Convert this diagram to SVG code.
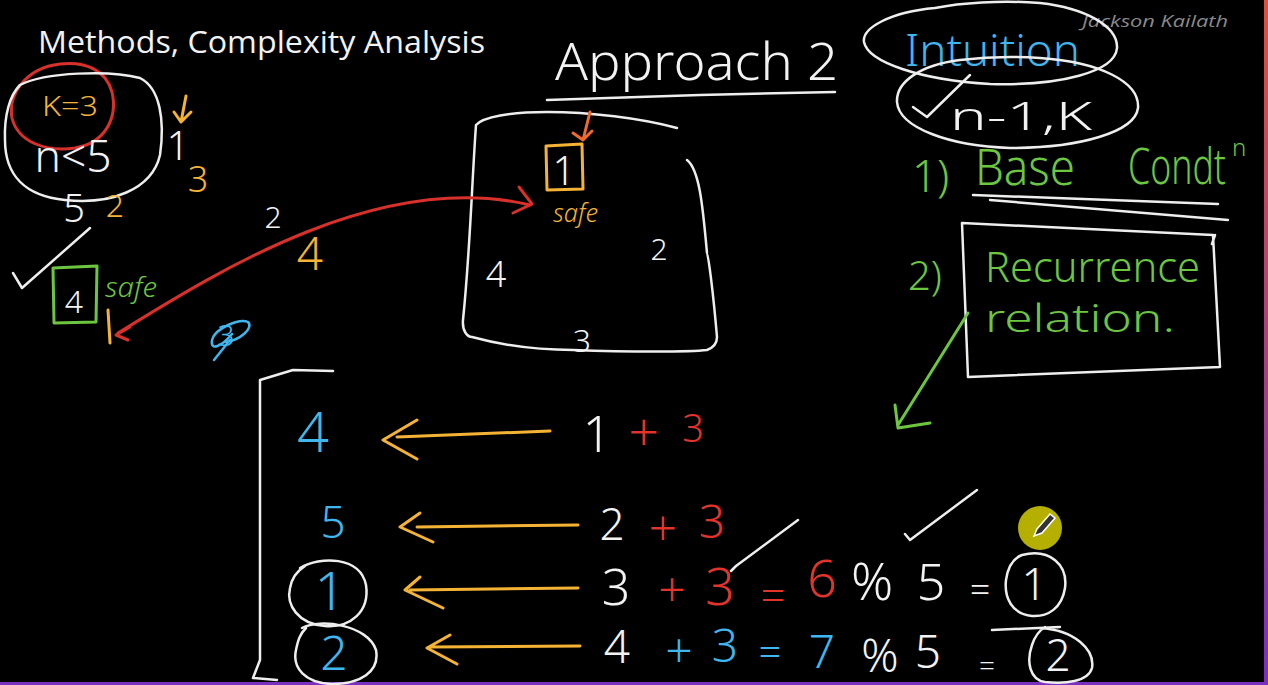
<svg xmlns="http://www.w3.org/2000/svg" width="1268" height="685" viewBox="0 0 1268 685">
<defs>
<linearGradient id="edge" x1="0" y1="0" x2="0" y2="1"><stop offset="0" stop-color="#e0503a"/><stop offset="1" stop-color="#7a30c0"/></linearGradient>
</defs>
<style>
text{font-family:"Noto Sans","Liberation Sans",sans-serif;}
.hw{font-family:"Noto Sans","Liberation Sans",sans-serif;font-weight:300;}
.c{text-anchor:middle;}
.w{fill:#f2f2f2;}.o{fill:#f5b335;}.r{fill:#e3342c;}.b{fill:#3fb6ee;}.g{fill:#6cc63f;}
.sw{fill:none;stroke:#eeeeee;stroke-width:2.5;stroke-linecap:round;stroke-linejoin:round;}
.so{fill:none;stroke:#f5b335;stroke-width:3;stroke-linecap:round;stroke-linejoin:round;}
.sr{fill:none;stroke:#d8302a;stroke-width:3;stroke-linecap:round;stroke-linejoin:round;}
.sg{fill:none;stroke:#6cc63f;stroke-width:3;stroke-linecap:round;stroke-linejoin:round;}
.sb{fill:none;stroke:#3fb6ee;stroke-width:2.5;stroke-linecap:round;stroke-linejoin:round;}
.sor{fill:none;stroke:#f06a30;stroke-width:3;stroke-linecap:round;stroke-linejoin:round;}
</style>
<rect width="1268" height="685" fill="#000"/>
<rect x="1264" y="0" width="4" height="685" fill="url(#edge)"/>
<rect x="0" y="682" width="1268" height="3" fill="#7b2fbf"/>

<g id="title">
<text x="38" y="53" font-size="31" textLength="447" lengthAdjust="spacingAndGlyphs" class="w" style="font-family:'Open Sans','Noto Sans',sans-serif">Methods, Complexity Analysis</text>
<text x="1082" y="27" font-size="17" fill="#8a8a8a" font-style="italic" textLength="146" lengthAdjust="spacingAndGlyphs" style="font-family:'Open Sans','Noto Sans',sans-serif">Jackson Kailath</text>
</g>

<g id="left-notes">
<path class="sr" d="M60,64 C25,68 8,95 12,118 C18,142 45,152 75,148 C105,143 118,118 112,92 C106,70 85,61 60,64 Z"/>
<path class="sw" d="M20,85 C45,72 110,70 140,78 C160,88 165,120 160,155 C152,190 110,205 65,200 C25,196 5,175 5,140 C4,115 10,95 20,85"/>
<text x="70" y="116" font-size="28" textLength="56" lengthAdjust="spacingAndGlyphs" class="hw o c">K=3</text>
<text x="73" y="172" font-size="44" textLength="77" lengthAdjust="spacingAndGlyphs" class="hw w c">n&lt;5</text>
<path class="so" d="M186,96 L181,122 M174,112 L181,122 L191,112"/>
<text x="178" y="160" font-size="40" class="hw w c">1</text>
<text x="198" y="192" font-size="36" class="hw o c">3</text>
<text x="74" y="222" font-size="38" class="hw w c">5</text>
<text x="115" y="217" font-size="32" class="hw o c">2</text>
<path class="sw" d="M13,273 L22,288 L90,228"/>
<path class="sg" d="M53,268 L97,266 L96,322 L54,323 Z"/>
<text x="74" y="313" font-size="32" class="hw w c">4</text>
<text x="105" y="297" font-size="28" font-style="italic" textLength="52" lengthAdjust="spacingAndGlyphs" class="hw g">safe</text>
<path class="so" d="M108,310 L110,343"/>
<text x="273" y="228" font-size="30" class="hw w c">2</text>
<text x="310" y="270" font-size="46" class="hw o c">4</text>
<text x="226" y="346" font-size="30" class="hw b c">3</text>
<path class="sb" d="M232,334 C222,346 210,352 212,340 C215,328 240,318 248,322 C254,328 240,340 226,342 M230,340 L214,360"/>
</g>

<g id="approach">
<text x="555" y="80" font-size="52" textLength="283" lengthAdjust="spacingAndGlyphs" class="hw w">Approach 2</text>
<path class="sw" d="M547,100 L700,95 L835,92"/>
</g>

<g id="circle-box">
<path class="sw" d="M677,128 C640,118 590,112 547,112 C510,112 483,117 476,125 C472,180 470,253 463,320 C462,332 468,337 472,337 C505,346 540,350 573,350 C630,352 690,352 707,350 C715,347 717,342 717,337 C713,290 708,253 707,253 C703,210 700,170 687,160"/>
<path class="so" d="M546,146 L582,144 L583,189 L547,190 Z"/>
<text x="564" y="185" font-size="40" class="hw w c">1</text>
<text x="553" y="222" font-size="26" font-style="italic" textLength="45" lengthAdjust="spacingAndGlyphs" class="hw o">safe</text>
<text x="659" y="260" font-size="30" class="hw w c">2</text>
<text x="496" y="287" font-size="36" class="hw w c">4</text>
<text x="582" y="352" font-size="32" class="hw w c">3</text>
</g>

<g id="intuition">
<path class="sw" d="M935,8 C890,12 862,28 864,42 C868,62 920,80 990,84 C1060,86 1115,72 1117,48 C1118,26 1085,8 1040,3 C1000,0 960,3 935,8"/>
<text x="905" y="66" font-size="44" textLength="175" lengthAdjust="spacingAndGlyphs" class="hw b">Intuition</text>
<path class="sw" d="M960,60 C920,65 896,82 897,102 C899,128 950,146 1010,148 C1080,148 1135,132 1138,108 C1140,82 1100,62 1040,58 C1010,56 985,57 960,60"/>
<path class="sw" d="M913,107 L927,117 L970,75"/>
<text x="950" y="130" font-size="38" textLength="142" lengthAdjust="spacingAndGlyphs" class="hw w">n-1,K</text>
</g>

<g id="base-condition">
<text x="912" y="192" font-size="44" class="hw g">1)</text>
<text x="975" y="185" font-size="50" textLength="100" lengthAdjust="spacingAndGlyphs" class="hw g">Base</text>
<text x="1128" y="184" font-size="50" textLength="98" lengthAdjust="spacingAndGlyphs" class="hw g">Condt</text>
<text x="1232" y="156" font-size="24" class="hw g">n</text>
<path class="sw" d="M973,195 L1218,204 M990,200 L1228,220"/>
</g>

<g id="recurrence">
<path class="sw" d="M962,223 L1213,235 L1220,367 L968,377 Z M1212,244 L1215,235"/>
<text x="908" y="290" font-size="40" class="hw g">2)</text>
<text x="985" y="282" font-size="42" textLength="215" lengthAdjust="spacingAndGlyphs" class="hw g">Recurrence</text>
<text x="985" y="332" font-size="38" textLength="190" lengthAdjust="spacingAndGlyphs" class="hw g">relation.</text>
</g>

<g id="table">
<path class="sw" d="M333,371 L293,370 L260,380 L260,660 L253,678 L277,680"/>
<text x="313" y="452" font-size="56" class="hw b c">4</text>
<text x="597" y="452" font-size="50" class="hw w c">1</text>
<text x="644" y="451" font-size="54" class="hw r c">+</text>
<text x="693" y="442" font-size="38" class="hw r c">3</text>

<text x="333" y="538" font-size="44" class="hw b c">5</text>
<text x="612" y="540" font-size="44" class="hw w c">2</text>
<text x="663" y="546" font-size="50" class="hw r c">+</text>
<text x="712" y="538" font-size="46" class="hw r c">3</text>

<path class="sw" d="M300,568 C320,556 360,556 366,585 C370,612 350,628 325,626 C298,624 286,605 290,588 C292,578 296,572 305,566"/>
<text x="330" y="610" font-size="54" class="hw b c">1</text>
<text x="616" y="605" font-size="50" class="hw w c">3</text>
<text x="672" y="607" font-size="48" class="hw r c">+</text>
<text x="720" y="605" font-size="52" class="hw r c">3</text>
<path class="sw" d="M731,571 L736,566 L798,520"/>
<text x="773" y="611" font-size="44" class="hw r c">=</text>
<text x="822" y="597" font-size="52" class="hw r c">6</text>
<text x="872" y="600" font-size="52" class="hw w c">%</text>
<text x="931" y="600" font-size="50" class="hw w c">5</text>
<path class="sw" d="M905,534 L910,540 L977,490"/>
<text x="980" y="602" font-size="36" class="hw w c">=</text>
<path class="sw" d="M1022,555 C1050,548 1068,565 1065,588 C1062,608 1048,617 1032,616 C1012,614 1004,598 1006,580 C1008,566 1014,558 1022,555"/>
<text x="1034" y="600" font-size="44" class="hw w c">1</text>

<path class="sw" d="M302,628 C320,618 368,625 376,650 C380,672 360,684 332,684 C305,683 292,668 296,650 C298,640 300,634 306,628"/>
<text x="334" y="670" font-size="48" class="hw b c">2</text>
<text x="617" y="663" font-size="46" class="hw w c">4</text>
<text x="679" y="668" font-size="48" class="hw b c">+</text>
<text x="725" y="662" font-size="46" class="hw b c">3</text>
<text x="770" y="666" font-size="40" class="hw b c">=</text>
<text x="822" y="668" font-size="46" class="hw b c">7</text>
<text x="880" y="672" font-size="46" class="hw w c">%</text>
<text x="928" y="668" font-size="46" class="hw w c">5</text>
<text x="987" y="676" font-size="28" class="hw w c">=</text>
<path class="sw" d="M992,630 L1060,627 M1040,628 C1075,630 1095,650 1092,668 C1088,682 1065,684 1045,682 C1030,680 1026,662 1032,645 C1035,636 1040,630 1045,627"/>
<text x="1058" y="671" font-size="44" class="hw w c">2</text>
</g>

<g id="cursor">
<circle cx="1040" cy="528" r="22" fill="#b5b000"/>
<path d="M1034,536 L1037,529 L1050,514 L1055,518 L1042,533 Z" fill="#333" stroke="#fff" stroke-width="1.5"/>
</g>

<g id="connectors">
<path class="sr" d="M118,333 C220,270 380,170 530,205"/>
<path class="sr" d="M519,187 L532,204 L513,213"/>
<path class="sr" d="M130,327 L116,335 L128,340"/>
<path class="sor" d="M590,112 L583,140 M573,133 L583,140 L592,131"/>
<path class="sg" d="M968,313 L898,425 M895,405 L898,428 L930,423"/>
<path class="so" d="M550,431 L397,437 M417,420 L383,440 L417,459"/>
<path class="so" d="M578,525 L417,527 M420,513 L400,527 L433,542"/>
<path class="so" d="M578,588 L410,590 M420,577 L405,590 L443,608"/>
<path class="so" d="M580,646 L430,647 M450,635 L427,648 L457,664"/>
</g>
</svg>
